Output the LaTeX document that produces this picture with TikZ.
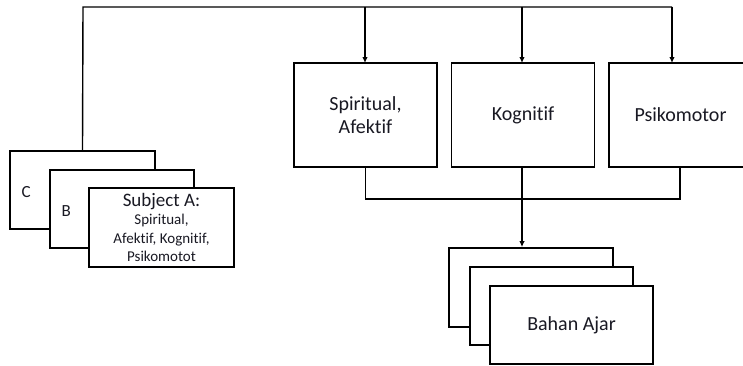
\documentclass[tikz,border=0pt]{standalone}
\usepackage{fontspec}
\setmainfont{Carlito}[Ligatures=NoCommon]
\usepackage{xcolor}
\definecolor{inkgray}{RGB}{25, 25, 35}
\usetikzlibrary{arrows.meta}

\begin{document}
\begin{tikzpicture}[x=1pt, y=-1pt,
    box/.style={draw, line width=1.8pt, fill=white, inner sep=0pt, text=inkgray, align=center},
    link/.style={line width=1.4pt},
    arr/.style={link, -{Latex[length=6pt, width=5.5pt]}}]
\useasboundingbox (0,0) rectangle (743,365);
% Subject cards
\node[box, minimum width=145pt, minimum height=78pt] (subC) at (82.5,190) {};
\node[anchor=west, text=inkgray, font=\fontsize{17}{19}\selectfont] (labC) at ([xshift=9pt, yshift=-2pt]subC.west) {C};
\node[box, minimum width=144pt, minimum height=78pt] (subB) at (122,209) {};
\node[anchor=west, text=inkgray, font=\fontsize{17}{19}\selectfont] (labB) at ([xshift=9pt, yshift=-2pt]subB.west) {B};
\node[box, line width=2.8pt, minimum width=145pt, minimum height=79pt, font=\fontsize{15}{18.3}\selectfont] (subA) at (161.5,227.5)
    {{\fontsize{19}{18.3}\selectfont Subject A:}\\Spiritual,\\Afektif, Kognitif,\\Psikomotot};
% Domain boxes
\foreach \x/\name/\title in {365.5/spir/{Spiritual,\\Afektif}, 523/kog/Kognitif, 680.5/psi/Psikomotor} {
    \node[box, minimum width=143pt, minimum height=104pt, font=\fontsize{20}{23}\selectfont] (\name) at (\x,115) {\title};
}
% Feed from subjects to domains
\coordinate (top) at (83,7);
\draw[link] (subC.north) -- (top) -- (672,7);
\draw[arr] (365,7) -- (365,63);
\draw[arr] (522,7) -- (522,63);
\draw[arr] (672,7) -- (672,63);
% Teaching materials
\node[box, minimum width=164pt, minimum height=79pt] (bahan1) at (531,287.5) {};
\node[box, minimum width=163pt, minimum height=78pt] (bahan2) at (551.5,306) {};
\node[box, minimum width=163pt, minimum height=78pt, font=\fontsize{20}{23}\selectfont] (bahan3) at (571.5,325) {Bahan Ajar};
% Merge domains into materials
\coordinate (merge) at (522,199);
\draw[link] (spir.south) -- (spir.south |- merge) -- (680,199) -- (680,167);
\draw[link] (522,167) -- (merge);
\draw[arr] (merge) -- (merge |- bahan1.north);
\end{tikzpicture}
\end{document}
